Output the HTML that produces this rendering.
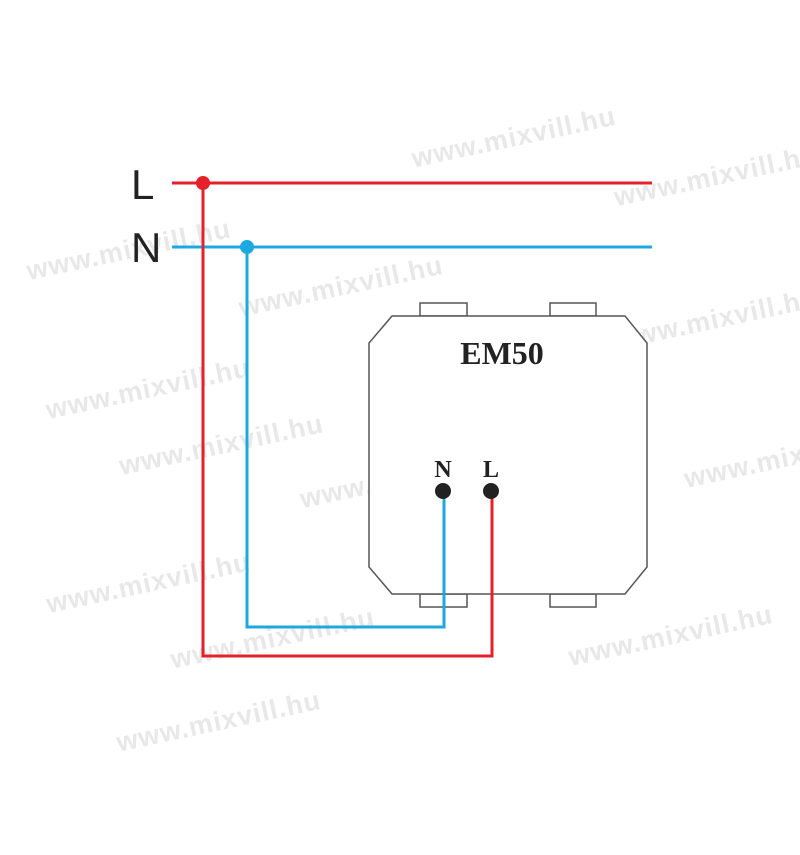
<!DOCTYPE html>
<html><head><style>html,body{margin:0;padding:0;background:#fff}</style></head>
<body>
<svg width="800" height="850" viewBox="0 0 800 850" xmlns="http://www.w3.org/2000/svg">
<rect width="800" height="850" fill="#fff"/>
<g font-family="Liberation Sans, sans-serif" font-size="27" font-weight="bold" fill="#e8e8e8" transform="rotate(-12)" letter-spacing="1">
<text x="370" y="250">www.mixvill.hu</text>
<text x="-30" y="280">www.mixvill.hu</text>
<text x="560" y="330">www.mixvill.hu</text>
<text x="170" y="360">www.mixvill.hu</text>
<text x="-40" y="420">www.mixvill.hu</text>
<text x="530" y="470">www.mixvill.hu</text>
<text x="20" y="490">www.mixvill.hu</text>
<text x="190" y="560">www.mixvill.hu</text>
<text x="-80" y="610">www.mixvill.hu</text>
<text x="570" y="620">www.mixvill.hu</text>
<text x="30" y="690">www.mixvill.hu</text>
<text x="420" y="770">www.mixvill.hu</text>
<text x="-40" y="760">www.mixvill.hu</text>
</g>
<g fill="#fff" stroke="#555" stroke-width="1.5">
<rect x="420" y="303" width="47" height="13"/>
<rect x="550" y="303" width="46" height="13"/>
<rect x="420" y="594" width="47" height="13"/>
<rect x="550" y="594" width="46" height="13"/>
<polygon points="392,316 625,316 647,343 647,567 625,594 392,594 369,567 369,343"/>
</g>
<text x="502" y="364" text-anchor="middle" font-family="Liberation Serif, serif" font-weight="bold" font-size="32" fill="#222">EM50</text>
<text x="443" y="477" text-anchor="middle" font-family="Liberation Serif, serif" font-weight="bold" font-size="24" fill="#222">N</text>
<text x="491" y="477" text-anchor="middle" font-family="Liberation Serif, serif" font-weight="bold" font-size="24" fill="#222">L</text>
<text x="131" y="199" font-family="Liberation Sans, sans-serif" font-size="42" fill="#222">L</text>
<text x="131" y="262" font-family="Liberation Sans, sans-serif" font-size="42" fill="#222">N</text>
<g fill="none" stroke-width="3">
<polyline stroke="#1ca8e0" points="172,247 652,247"/>
<polyline stroke="#1ca8e0" points="247,247 247,627 444,627 444,491"/>
<polyline stroke="#e5202a" points="172,183 652,183"/>
<polyline stroke="#e5202a" points="203,183 203,656 492,656 492,491"/>
</g>
<circle cx="203" cy="183" r="7" fill="#e5202a"/>
<circle cx="247" cy="247" r="7" fill="#1ca8e0"/>
<circle cx="443" cy="491" r="8" fill="#222"/>
<circle cx="491" cy="491" r="8" fill="#222"/>
</svg>
</body></html>
